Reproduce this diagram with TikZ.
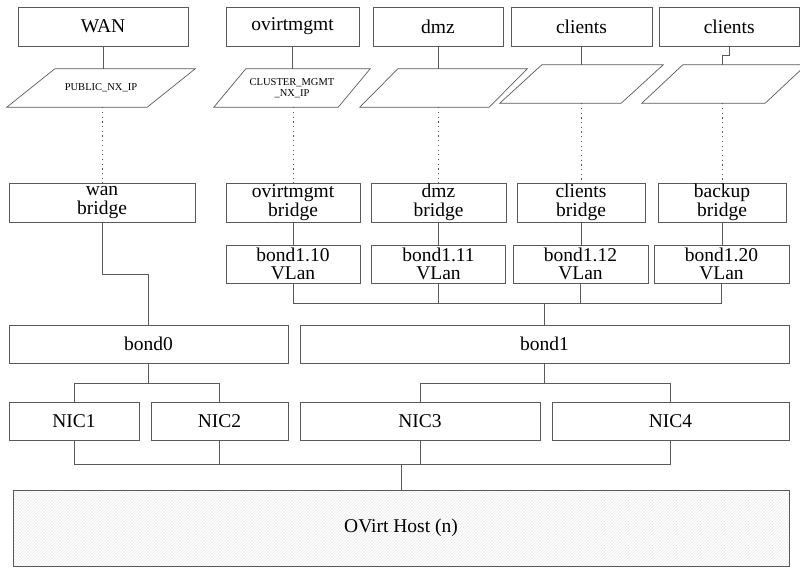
\documentclass[tikz,border=0pt]{standalone}
\usepackage{fontspec}
\setmainfont{Liberation Serif}
\usepackage{tikz}
\usetikzlibrary{patterns}

\begin{document}
\begin{tikzpicture}[x=1pt, y=-1pt,
  box/.style={draw=black!65, line width=0.7pt, inner sep=0pt, align=center, font=\fontsize{19.5}{18.5}\selectfont},
  iface/.style={inner sep=0pt, minimum height=38, align=center, font=\fontsize{10.5}{11.5}\selectfont},
  wire/.style={draw=black!65, line width=0.7pt},
  hidden/.style={draw=black!65, line width=0.8pt, dash pattern=on 1.2pt off 3.5pt}]
 \useasboundingbox (0,0) rectangle (800,574);

 % networks
 \node [box, minimum width=170, minimum height=39] (wan) at (103,26.5) {WAN};
 \node [box, minimum width=133, minimum height=39] (mgmt) at (292.5,26.5) {ovirtmgmt};
 \node [box, minimum width=130, minimum height=39] (dmz) at (438,26.5) {dmz};
 \node [box, minimum width=141, minimum height=39] (cli) at (581.5,26.5) {clients};
 \node [box, minimum width=140.5, minimum height=39] (cli2) at (729.25,26.5) {clients};

 % addresses
 \node [iface, minimum width=188] (ipwan) at (101,88) {PUBLIC\_NX\_IP};
 \node [iface, minimum width=156] (ipmgmt) at (292,88) {CLUSTER\_MGMT\\\_NX\_IP};
 \node [iface, minimum width=167] (ipdmz) at (443.5,88) {};
 \node [iface, minimum width=163] (ipcli) at (581.5,84) {};
 \node [iface, minimum width=164] (ipbak) at (724,84) {};
 \draw [wire] ([xshift=48]ipwan.north west) -- (ipwan.north east) -- ([xshift=-48]ipwan.south east) -- (ipwan.south west) -- cycle;
 \draw [wire] ([xshift=32]ipmgmt.north west) -- (ipmgmt.north east) -- ([xshift=-32]ipmgmt.south east) -- (ipmgmt.south west) -- cycle;
 \draw [wire] ([xshift=38]ipdmz.north west) -- (ipdmz.north east) -- ([xshift=-38]ipdmz.south east) -- (ipdmz.south west) -- cycle;
 \draw [wire] ([xshift=42]ipcli.north west) -- (ipcli.north east) -- ([xshift=-42]ipcli.south east) -- (ipcli.south west) -- cycle;
 \draw [wire] ([xshift=41]ipbak.north west) -- (ipbak.north east) -- ([xshift=-41]ipbak.south east) -- (ipbak.south west) -- cycle;

 % bridges
 \node [box, minimum width=186, minimum height=39] (wanbr) at (102,202.5) {wan\\bridge};
 \node [box, minimum width=134, minimum height=39] (mgmtbr) at (293,202.5) {ovirtmgmt\\bridge};
 \node [box, minimum width=135, minimum height=39] (dmzbr) at (438.5,202.5) {dmz\\bridge};
 \node [box, minimum width=128, minimum height=39] (clibr) at (581,202.5) {clients\\bridge};
 \node [box, minimum width=128, minimum height=39] (bakbr) at (722,202.5) {backup\\bridge};

 % vlans
 \node [box, minimum width=134, minimum height=38] (vlan10) at (293,264) {bond1.10\\VLan};
 \node [box, minimum width=134, minimum height=38] (vlan11) at (438.5,264) {bond1.11\\VLan};
 \node [box, minimum width=135, minimum height=38] (vlan12) at (580.5,264) {bond1.12\\VLan};
 \node [box, minimum width=135, minimum height=38] (vlan20) at (721.5,264) {bond1.20\\VLan};

 % bonds and nics
 \node [box, minimum width=279, minimum height=38] (bond0) at (148.5,344) {bond0};
 \node [box, minimum width=489, minimum height=38] (bond1) at (544.5,344) {bond1};
 \node [box, minimum width=130, minimum height=38] (nic1) at (74,421) {NIC1};
 \node [box, minimum width=137, minimum height=38] (nic2) at (219.5,421) {NIC2};
 \node [box, minimum width=240, minimum height=38] (nic3) at (420,421) {NIC3};
 \node [box, minimum width=237, minimum height=38] (nic4) at (670.5,421) {NIC4};
 \node [box, pattern=north east lines, pattern color=black!9, minimum width=776, minimum height=76] (host) at (401,528) {OVirt Host (n)};

 \draw [wire] (wan.south) -- (wan.south |- ipwan.north);
 \draw [wire] (mgmt.south) -- (mgmt.south |- ipmgmt.north);
 \draw [wire] (dmz.south) -- (dmz.south |- ipdmz.north);
 \draw [wire] (cli.south) -- (cli.south |- ipcli.north);
 \draw [wire] (cli2.south) -- ++(0,9) -| (bakbr.north |- ipbak.north);

 \draw [hidden] (wanbr.north |- ipwan.south) -- (wanbr.north);
 \draw [hidden] (mgmtbr.north |- ipmgmt.south) -- (mgmtbr.north);
 \draw [hidden] (dmzbr.north |- ipdmz.south) -- (dmzbr.north);
 \draw [hidden] (clibr.north |- ipcli.south) -- (clibr.north);
 \draw [hidden] (bakbr.north |- ipbak.south) -- (bakbr.north);

 \draw [wire] (mgmtbr.south) -- (vlan10.north);
 \draw [wire] (dmzbr.south) -- (dmzbr.south |- vlan11.north);
 \draw [wire] (clibr.south) -- (clibr.south |- vlan12.north);
 \draw [wire] (bakbr.south) -- (bakbr.south |- vlan20.north);

 \draw [wire] (wanbr.south) -- ++(0,52) -| (bond0.north);
 \draw [wire] (vlan10.south) |- ([yshift=21pt]bond1.north) -- (bond1.north);
 \draw [wire] (vlan11.south) |- ([yshift=21pt]bond1.north);
 \draw [wire] (vlan12.south) |- ([yshift=21pt]bond1.north);
 \draw [wire] (vlan20.south) |- ([yshift=21pt]bond1.north);

 \draw [wire] (bond0.south) -- ++(0,20) -| (nic1.north);
 \draw [wire] (bond0.south) -- ++(0,20) -| (nic2.north);
 \draw [wire] (bond1.south) -- ++(0,20) -| (nic3.north);
 \draw [wire] (bond1.south) -- ++(0,20) -| (nic4.north);

 \draw [wire] (nic1.south) |- ([yshift=25pt]host.north) -- (host.north);
 \draw [wire] (nic2.south) |- ([yshift=25pt]host.north);
 \draw [wire] (nic3.south) |- ([yshift=25pt]host.north);
 \draw [wire] (nic4.south) |- ([yshift=25pt]host.north);
\end{tikzpicture}
\end{document}
